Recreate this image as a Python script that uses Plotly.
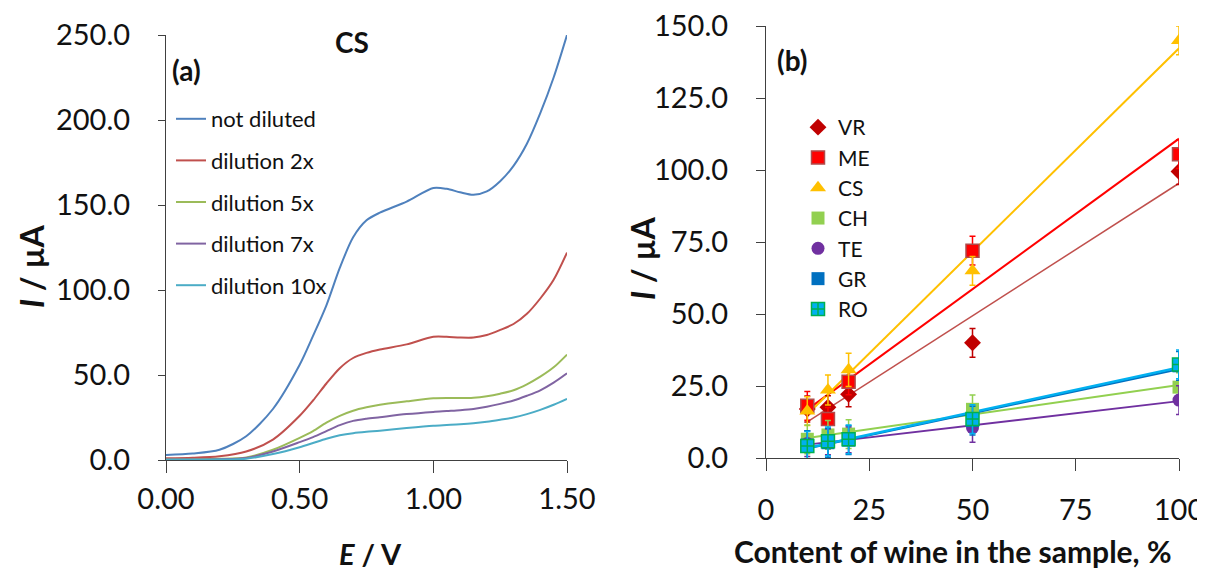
import numpy as np
import plotly.graph_objects as go

# ---------------- Panel (a): voltammograms of CS ----------------
E_V = [0, 0.1, 0.2, 0.3, 0.4, 0.5, 0.55, 0.6, 0.65, 0.7, 0.75, 0.8, 0.9, 1.0,
       1.05, 1.1, 1.15, 1.2, 1.25, 1.3, 1.35, 1.4, 1.45, 1.5]
not_diluted = [3, 3.8, 6, 14, 30, 56, 73, 91, 113, 131, 141, 145.5, 152, 160,
               159.5, 157.5, 156, 158, 164, 173, 186, 204, 225, 250]
dil_2x = [1, 1.3, 2.2, 5, 12, 26, 35, 45, 54, 60, 63, 65, 68, 72.5,
          72.5, 72, 72, 73.5, 76.5, 80, 86, 95, 106, 122]
dil_5x = [0.5, 0.5, 0.7, 1.5, 6, 13, 17, 22, 26, 29, 31, 32.5, 34.5, 36.3,
          36.5, 36.4, 36.6, 37.5, 39, 41, 44.5, 49, 54.5, 62]
dil_7x = [0.3, 0.3, 0.5, 1.2, 5, 10.5, 13.5, 17, 20.5, 23, 24.3, 25.2, 27, 28.3,
          28.8, 29.3, 30, 31.3, 33, 35, 37.8, 41, 45.5, 51]
dil_10x = [0.2, 0.2, 0.3, 0.8, 3.5, 7.5, 10, 12.5, 14.5, 15.8, 16.6, 17.2, 18.8, 20.2,
           20.6, 21, 21.6, 22.5, 23.7, 25, 27, 29.5, 32.5, 36]
curve_names = ["not diluted", "dilution 2x", "dilution 5x", "dilution 7x", "dilution 10x"]
curve_colors = ["#4F81BD", "#C0504D", "#9BBB59", "#8064A2", "#4BACC6"]

# ---------------- Panel (b): calibration by wine content ----------------
content = [10, 15, 20, 50, 100]
VR = [17, 17.6, 22.1, 40, 99.5]
ME = [18.1, 13.5, 26.5, 72, 105.5]
CS = [16.3, 23.6, 30.6, 65, 145]
CH = [6.5, 8, 8.3, 16.9, 24.6]
TE = [5, 5.6, 6.3, 10.5, 20.1]
GR = [4.5, 5.3, 6.2, 13, 32]
RO = [4.2, 5.8, 6.5, 13.5, 32.5]
VR_err = [4.5, 4, 4.3, 5, 4.5]
ME_err = [5, 4, 4.5, 5, 5]
CS_err = [5, 5.2, 5.8, 5, 5]
CH_err = [5, 5, 5, 5, 5]
TE_err = [4.5, 4.5, 4.5, 5, 5]
GR_err = [5, 5, 5, 5, 5]
RO_err = [5, 5, 5, 5, 5]
wine_names = ["VR", "ME", "CS", "CH", "TE", "GR", "RO"]

FONT = "Lato"
W, H, OFF = 1205, 576, 8  # page body margin shifts the figure by 8 px


def px_x(px):
    return (px - OFF) / W


def px_y(py):
    return 1 - (py - OFF) / H


fig = go.Figure()

for name, ys, col in zip(curve_names, [not_diluted, dil_2x, dil_5x, dil_7x, dil_10x], curve_colors):
    fig.add_trace(go.Scatter(
        x=E_V, y=ys, mode="lines", name=name,
        line=dict(color=col, width=2, shape="spline", smoothing=0.8),
        xaxis="x", yaxis="y", legend="legend", legendgroup=name,
    ))

series = [
    ("VR", VR, VR_err, dict(symbol="diamond", color="#C00000", size=13), "#C0504D", 1.5),
    ("ME", ME, ME_err, dict(symbol="square", color="#FF0000", size=13,
                             line=dict(color="#B04A4A", width=1.5)), "#FF0000", 2),
    ("CS", CS, CS_err, dict(symbol="triangle-up", color="#FFC000", size=14), "#FFC000", 2),
    ("CH", CH, CH_err, dict(symbol="square", color="#92D050", size=13), "#92D050", 2),
    ("TE", TE, TE_err, dict(symbol="circle", color="#7030A0", size=13), "#7030A0", 1.8),
    ("GR", GR, GR_err, dict(symbol="square", color="#0070C0", size=13), "#0070C0", 2),
    ("RO", RO, RO_err, dict(symbol="square-cross", color="#00B0F0", size=13,
                             line=dict(color="#00B050", width=1.5)), "#00B0F0", 2.5),
]

# trend lines (least-squares fits of each series)
for name, ys, err, mk, lcol, lw in series:
    k, b = np.polyfit(content, ys, 1)
    xs = [min(content), max(content)]
    fig.add_trace(go.Scatter(
        x=xs, y=[k * v + b for v in xs], mode="lines",
        line=dict(color=lcol, width=lw), showlegend=False,
        xaxis="x2", yaxis="y2", hoverinfo="skip",
    ))

for name, ys, err, mk, lcol, lw in series:
    fig.add_trace(go.Scatter(
        x=content, y=ys, mode="markers", name=name, marker=mk,
        error_y=dict(type="data", array=err, color=mk["color"] if name != "RO" else "#00B0F0",
                     thickness=1.5, width=3),
        xaxis="x2", yaxis="y2", legend="legend2", legendgroup=name,
    ))

axcol = "#404040"
tickfont = dict(family=FONT, size=29, color="#111111")
common = dict(showline=True, linecolor=axcol, linewidth=1.3, ticks="outside",
              tickcolor=axcol, tickwidth=1.3, showgrid=False, zeroline=False,
              tickfont=tickfont, automargin=False, ticklabeloverflow="allow")

fig.update_layout(
    width=W, height=H,
    margin=dict(l=0, r=0, t=0, b=0, pad=0, autoexpand=False),
    paper_bgcolor="white", plot_bgcolor="white",
    font=dict(family=FONT, color="#111111"),
    xaxis=dict(domain=[px_x(166), px_x(567)], range=[0, 1.5], tickvals=[0, 0.5, 1.0, 1.5],
               tickformat=".2f", ticklen=12, ticklabelstandoff=1, anchor="y", **common),
    yaxis=dict(domain=[px_y(460), px_y(35)], range=[0, 250], dtick=50, tickformat=".1f",
               ticklen=7, ticklabelstandoff=22, anchor="x", **common),
    xaxis2=dict(domain=[px_x(766), px_x(1179)], range=[0, 100], dtick=25,
                ticklen=12, ticklabelstandoff=14, anchor="y2", **common),
    yaxis2=dict(domain=[px_y(458), px_y(26)], range=[0, 150], dtick=25, tickformat=".1f",
                ticklen=9, ticklabelstandoff=22, anchor="x2", **common),
    legend=dict(x=px_x(171), y=px_y(98), xanchor="left", yanchor="top",
                font=dict(family=FONT, size=22, color="#111111"),
                bgcolor="rgba(0,0,0,0)", tracegroupgap=10, itemwidth=30),
    legend2=dict(x=px_x(798), y=px_y(107), xanchor="left", yanchor="top",
                 font=dict(family=FONT, size=21, color="#111111"),
                 bgcolor="rgba(0,0,0,0)", tracegroupgap=0, itemwidth=30),
    showlegend=True,
)

ann = [
    ("<b>CS</b>", 352, 42, 28),
    ("<b>(a)</b>", 186, 70, 28),
    ("<b>(b)</b>", 792, 60, 28),
    ("<b><i>E</i> / V</b>", 370, 553, 29),
    ("<b>Content of wine in the sample, %</b>", 953, 551, 30),
]
for text, px, py, size in ann:
    fig.add_annotation(text=text, x=px_x(px), y=px_y(py), xref="paper", yref="paper",
                       showarrow=False, xanchor="center", yanchor="middle",
                       font=dict(family=FONT, size=size, color="#111111"))
for px, py in [(31, 266), (642, 258)]:
    fig.add_annotation(text="<b><i>I</i> / µA</b>", x=px_x(px), y=px_y(py),
                       xref="paper", yref="paper", showarrow=False, textangle=-90,
                       xanchor="center", yanchor="middle",
                       font=dict(family=FONT, size=32, color="#111111"))

fig.write_html("out.html")
